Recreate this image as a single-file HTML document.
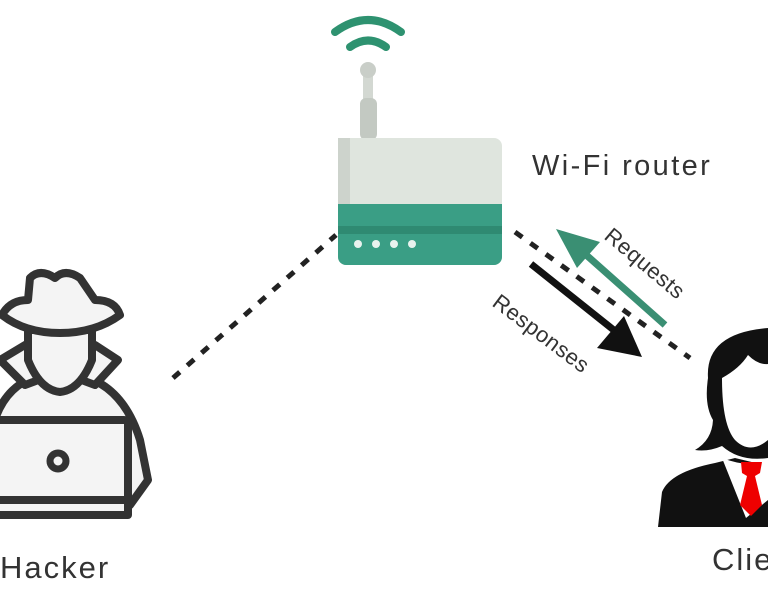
<!DOCTYPE html>
<html><head><style>
body{margin:0;background:#fff;width:768px;height:600px;overflow:hidden;font-family:"Liberation Sans",sans-serif}
</style></head><body>
<svg width="768" height="600" viewBox="0 0 768 600" xmlns="http://www.w3.org/2000/svg">
<rect width="768" height="600" fill="#fff"/>
<!-- wifi arcs -->
<path d="M335 32 Q368 8 401 32" stroke="#2e9270" stroke-width="8" fill="none" stroke-linecap="round"/>
<path d="M350 47 Q368 34 386 47" stroke="#2e9270" stroke-width="8" fill="none" stroke-linecap="round"/>
<!-- antenna -->
<rect x="363" y="74" width="10" height="30" fill="#d3d8d2"/>
<rect x="360" y="98" width="17" height="42" rx="6" fill="#c3c9c2"/>
<circle cx="368" cy="70" r="8" fill="#c9cec8"/>
<!-- router -->
<rect x="338" y="138" width="164" height="127" rx="8" fill="#dfe5de"/>
<rect x="338" y="138" width="12" height="70" fill="#cdd3cc"/>
<path d="M338 204 H502 V257 a8 8 0 0 1 -8 8 H346 a8 8 0 0 1 -8 -8Z" fill="#3a9e85"/>
<rect x="338" y="226" width="164" height="8" fill="#2f8a72"/>
<g fill="#e8f2ee"><circle cx="358" cy="244" r="4"/><circle cx="376" cy="244" r="4"/><circle cx="394" cy="244" r="4"/><circle cx="412" cy="244" r="4"/></g>
<text x="532" y="175" font-size="29" fill="#333" letter-spacing="2.4">Wi-Fi router</text>
<!-- dashed lines -->
<line x1="173" y1="378" x2="336" y2="235" stroke="#222" stroke-width="5" stroke-dasharray="9 10"/>
<line x1="515" y1="232" x2="690" y2="358" stroke="#222" stroke-width="5" stroke-dasharray="9 10"/>
<!-- arrows -->
<line x1="665" y1="325" x2="575" y2="245" stroke="#3a8f73" stroke-width="7"/>
<polygon points="556,229 600,242 577,268" fill="#3a8f73"/>
<line x1="531" y1="264" x2="620" y2="335" stroke="#111" stroke-width="7"/>
<polygon points="642,357 597,348 624,316" fill="#111"/>
<text transform="translate(603,238) rotate(40)" font-size="22" fill="#333" letter-spacing="0.5">Requests</text>
<text transform="translate(491,305) rotate(37)" font-size="22" fill="#333" letter-spacing="0.5">Responses</text>
<!-- hacker -->
<g stroke="#333" stroke-width="8" fill="#f4f4f4" stroke-linejoin="round" stroke-linecap="round">
<path d="M-10 440 Q0 375 60 372 Q120 375 140 440 L148 480 L130 505 L-10 505Z"/>
<path d="M0 360 L25 345 L60 380 L95 345 L118 360 L95 385 L60 372 L25 385Z"/>
<path d="M28 330 V360 Q40 390 60 392 Q80 390 92 360 V330Z"/>
<path d="M2 315 Q10 300 28 300 L30 278 Q40 268 55 278 Q65 268 80 278 L95 300 Q115 300 120 315 Q95 333 60 333 Q25 333 2 315Z"/>
<rect x="-10" y="420" width="138" height="80" rx="4"/>
<path d="M-10 500 H128 V515 H-10Z"/>
<circle cx="58" cy="461" r="8" stroke-width="7"/>
</g>
<text x="0" y="578" font-size="31" fill="#333" letter-spacing="2">Hacker</text>
<!-- client -->
<path d="M658 527 L662 492 Q670 472 715 463 L735 458 L768 466 V527Z" fill="#111"/>
<path d="M722 458 L746 518 L768 500 V462 Q748 468 722 458Z" fill="#fff"/>
<path d="M741 462 L762 462 L760 473 L755 476 L762 505 L751 516 L740 505 L747 476 L742 473Z" fill="#e00"/>
<path d="M695 450 Q712 440 713 420 Q704 405 708 378 Q705 333 768 328 V458 Q740 462 722 446 Q708 452 695 450Z" fill="#111"/>
<path d="M722 378 Q740 368 748 355 Q758 365 768 364 V440 Q750 455 735 440 Q722 425 722 378Z" fill="#fff"/>
<text x="712" y="570" font-size="31" fill="#333" letter-spacing="2">Clie</text>
</svg>
</body></html>
